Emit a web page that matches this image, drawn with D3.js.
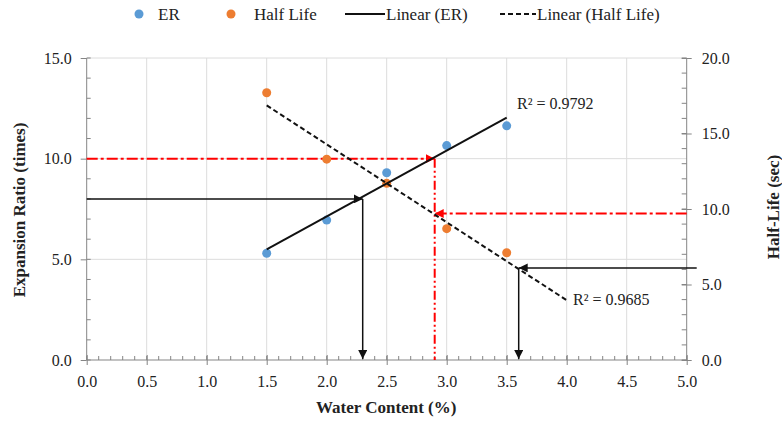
<!DOCTYPE html>
<html>
<head>
<meta charset="utf-8">
<script src="https://cdn.jsdelivr.net/npm/d3@7"></script>
<style>
  body { margin: 0; background: #fff; }
  svg text { font-family: "Liberation Serif", "Times New Roman", serif; fill: #222; }
</style>
</head>
<body>
<script>
// data
const waterContent = [1.5, 2.0, 2.5, 3.0, 3.5];
const expansionRatio = [5.3, 6.95, 9.3, 10.65, 11.63];
const halfLife = [17.7, 13.3, 11.7, 8.7, 7.1];
const erFitRange = [1.5, 3.5];
const hlFitRange = [1.5, 4.0];
const erR2 = "R\u00b2 = 0.9792";
const hlR2 = "R\u00b2 = 0.9685";

// reading guides drawn on the chart
const erReadBlack = { er: 8.0, wc: 2.3 };
const erReadRed = { er: 10.0, wc: 2.9 };
const hlReadRed = { hl: 9.7, wc: 2.9 };
const hlReadBlack = { hl: 6.1, wc: 3.6 };

const xTicks = d3.range(0, 5.01, 0.5);
const yLeftTicks = [0, 5, 10, 15];
const yRightTicks = [0, 5, 10, 15, 20];

const width = 782, height = 421;
const mLeft = 86.7, mRight = 686.7, mTop = 58, mBottom = 360;
const serif = "Liberation Serif, Times New Roman, serif";

const x = d3.scaleLinear().domain([0, 5]).range([mLeft, mRight]);
const yL = d3.scaleLinear().domain([0, 15]).range([mBottom, mTop]);
const yR = d3.scaleLinear().domain([0, 20]).range([mBottom, mTop]);

const svg = d3.select("body").append("svg")
  .attr("width", width).attr("height", height);

const defs = svg.append("defs");
const arrow = (id, color) => {
  defs.append("marker").attr("id", id)
    .attr("viewBox", "0 0 10 10").attr("refX", 10).attr("refY", 5)
    .attr("markerWidth", 9).attr("markerHeight", 9)
    .attr("markerUnits", "userSpaceOnUse")
    .attr("orient", "auto")
    .append("path").attr("d", "M0,0 L10,5 L0,10 Z").attr("fill", color);
};
arrow("arrBlack", "#111");
arrow("arrRed", "#ff0000");

// gridlines
svg.append("g").selectAll("line").data(xTicks.filter(d => d > 0 && d < 5)).enter()
  .append("line")
  .attr("x1", d => x(d)).attr("x2", d => x(d))
  .attr("y1", mTop).attr("y2", mBottom)
  .attr("stroke", "#dcdcdc").attr("stroke-width", 1);
svg.append("g").selectAll("line").data(yLeftTicks.filter(d => d > 0)).enter()
  .append("line")
  .attr("x1", mLeft).attr("x2", mRight)
  .attr("y1", d => yL(d)).attr("y2", d => yL(d))
  .attr("stroke", "#dcdcdc").attr("stroke-width", 1);

const axisColor = "#858585";

// x axis
const xMinor = d3.range(0, 50.1, 1).map(d => d / 10);
svg.append("g").selectAll("line").data(xMinor).enter().append("line")
  .attr("x1", d => x(d)).attr("x2", d => x(d))
  .attr("y1", mBottom - 4).attr("y2", mBottom)
  .attr("stroke", axisColor);
const xAxis = svg.append("g").attr("transform", `translate(0,${mBottom})`)
  .call(d3.axisBottom(x).tickValues(xTicks).tickFormat(d3.format(".1f")).tickSize(5).tickPadding(11))
  .attr("font-family", serif).attr("font-size", 16);
xAxis.selectAll(".tick line").attr("y1", -5).attr("stroke", axisColor);
xAxis.select(".domain").attr("stroke", axisColor).attr("d", `M${mLeft},0H${mRight}`);
xAxis.selectAll("text").attr("fill", "#222");

// left axis
const yMinorL = d3.range(0, 15.1, 1);
svg.append("g").selectAll("line").data(yMinorL).enter().append("line")
  .attr("x1", mLeft).attr("x2", mLeft + 4)
  .attr("y1", d => yL(d)).attr("y2", d => yL(d))
  .attr("stroke", axisColor);
const yAxisL = svg.append("g").attr("transform", `translate(${mLeft},0)`)
  .call(d3.axisLeft(yL).tickValues(yLeftTicks).tickFormat(d3.format(".1f")).tickSize(6).tickPadding(9))
  .attr("font-family", serif).attr("font-size", 16);
yAxisL.selectAll(".tick line").attr("stroke", axisColor);
yAxisL.select(".domain").attr("stroke", axisColor).attr("d", `M0,${mBottom}V${mTop}`);
yAxisL.selectAll("text").attr("fill", "#222");

// right axis
const yMinorR = d3.range(0, 20.1, 1);
svg.append("g").selectAll("line").data(yMinorR).enter().append("line")
  .attr("x1", mRight - 5).attr("x2", mRight)
  .attr("y1", d => yR(d)).attr("y2", d => yR(d))
  .attr("stroke", axisColor);
const yAxisR = svg.append("g").attr("transform", `translate(${mRight},0)`)
  .call(d3.axisRight(yR).tickValues(yRightTicks).tickFormat(d3.format(".1f")).tickSize(5).tickPadding(10))
  .attr("font-family", serif).attr("font-size", 16);
yAxisR.selectAll(".tick line").attr("x1", -5).attr("stroke", axisColor);
yAxisR.select(".domain").attr("stroke", axisColor).attr("d", `M0,${mBottom}V${mTop}`);
yAxisR.selectAll("text").attr("fill", "#222");

// axis titles
svg.append("text").attr("x", (mLeft + mRight) / 2 - 0.5).attr("y", 413)
  .attr("text-anchor", "middle").style("font-size", "17px").style("font-weight", "bold")
  .text("Water Content (%)");
svg.append("text").attr("transform", "translate(25,210) rotate(-90)")
  .attr("text-anchor", "middle").style("font-size", "17px").style("font-weight", "bold")
  .text("Expansion Ratio (times)");
svg.append("text").attr("transform", "translate(779,207) rotate(-90)")
  .attr("text-anchor", "middle").style("font-size", "17px").style("font-weight", "bold")
  .text("Half-Life (sec)");

// linear fits
const fit = (xs, ys) => {
  const mx = d3.mean(xs), my = d3.mean(ys);
  const sxy = d3.sum(xs, (v, i) => (v - mx) * (ys[i] - my));
  const sxx = d3.sum(xs, v => (v - mx) * (v - mx));
  const b = sxy / sxx;
  return v => my + b * (v - mx);
};
const erFit = fit(waterContent, expansionRatio);
const hlFit = fit(waterContent, halfLife);

// reading guides
const guide = (x1, y1, x2, y2, color, dash, marker, w) => {
  const l = svg.append("line")
    .attr("x1", x1).attr("y1", y1).attr("x2", x2).attr("y2", y2)
    .attr("stroke", color).attr("stroke-width", w);
  if (dash) l.attr("stroke-dasharray", dash);
  if (marker) l.attr("marker-end", `url(#${marker})`);
};
const redDash = "11,3,3,3";
const redDash2 = "9,3,2,3,2,3";
guide(x(0), yL(erReadBlack.er), x(erReadBlack.wc), yL(erReadBlack.er), "#111", null, "arrBlack", 1.5);
guide(x(erReadBlack.wc), yL(erReadBlack.er), x(erReadBlack.wc), yL(0) - 1, "#111", null, "arrBlack", 1.5);
guide(x(0), yL(erReadRed.er), x(erReadRed.wc), yL(erReadRed.er), "#ff0000", redDash, "arrRed", 2);
guide(x(erReadRed.wc), yL(erReadRed.er), x(erReadRed.wc), yL(0), "#ff0000", redDash2, null, 2);
guide(x(5), yR(hlReadRed.hl), x(hlReadRed.wc), yR(hlReadRed.hl), "#ff0000", redDash, "arrRed", 2);
guide(mRight + 10, yR(hlReadBlack.hl), x(hlReadBlack.wc), yR(hlReadBlack.hl), "#111", null, "arrBlack", 1.5);
guide(x(hlReadBlack.wc), yR(hlReadBlack.hl), x(hlReadBlack.wc), yR(0) - 1, "#111", null, "arrBlack", 1.5);

// points
svg.append("g").selectAll("circle").data(waterContent).enter().append("circle")
  .attr("cx", d => x(d)).attr("cy", (d, i) => yL(expansionRatio[i]))
  .attr("r", 4.5).attr("fill", "#5b9bd5");
svg.append("g").selectAll("circle").data(waterContent).enter().append("circle")
  .attr("cx", d => x(d)).attr("cy", (d, i) => yR(halfLife[i]))
  .attr("r", 4.5).attr("fill", "#ed7d31");

svg.append("line")
  .attr("x1", x(erFitRange[0])).attr("y1", yL(erFit(erFitRange[0])))
  .attr("x2", x(erFitRange[1])).attr("y2", yL(erFit(erFitRange[1])))
  .attr("stroke", "#111").attr("stroke-width", 2);
svg.append("line")
  .attr("x1", x(hlFitRange[0])).attr("y1", yR(hlFit(hlFitRange[0])))
  .attr("x2", x(hlFitRange[1])).attr("y2", yR(hlFit(hlFitRange[1])))
  .attr("stroke", "#111").attr("stroke-width", 2).attr("stroke-dasharray", "5,3");

svg.append("text").attr("x", 517).attr("y", 109).style("font-size", "16px").text(erR2);
svg.append("text").attr("x", 573).attr("y", 305).style("font-size", "16px").text(hlR2);

// legend
const legend = svg.append("g").style("font-size", "17px");
legend.append("circle").attr("cx", 139).attr("cy", 14).attr("r", 4.5).attr("fill", "#5b9bd5");
legend.append("text").attr("x", 158).attr("y", 20).text("ER");
legend.append("circle").attr("cx", 231).attr("cy", 14).attr("r", 4.5).attr("fill", "#ed7d31");
legend.append("text").attr("x", 254).attr("y", 20).text("Half Life");
legend.append("line").attr("x1", 345).attr("x2", 385).attr("y1", 14).attr("y2", 14)
  .attr("stroke", "#111").attr("stroke-width", 2);
legend.append("text").attr("x", 386).attr("y", 20).text("Linear (ER)");
legend.append("line").attr("x1", 500).attr("x2", 536).attr("y1", 14).attr("y2", 14)
  .attr("stroke", "#111").attr("stroke-width", 2).attr("stroke-dasharray", "5,3");
legend.append("text").attr("x", 537).attr("y", 20).text("Linear (Half Life)");
</script>
</body>
</html>
